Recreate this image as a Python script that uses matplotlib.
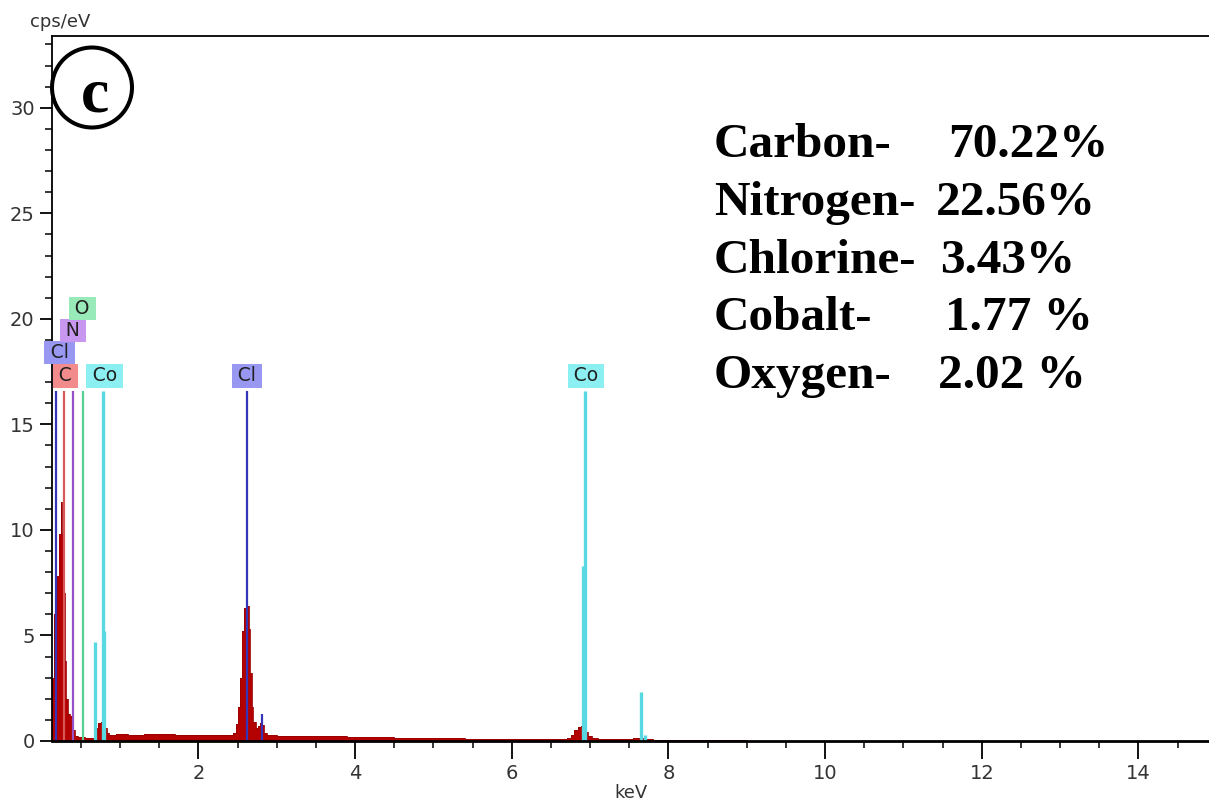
"""EDS spectrum of the cobalt complex with element markers and
the quantified composition."""

import matplotlib.pyplot as plt
from matplotlib.patches import Circle
from matplotlib.ticker import MultipleLocator

# spectrum: left edge of each channel group (keV) and counts (cps/eV)
energy = [0.13, 0.15, 0.19, 0.215, 0.24, 0.26, 0.285, 0.30, 0.315, 0.335,
          0.36, 0.385, 0.42, 0.46, 0.55, 0.66, 0.70, 0.72, 0.76, 0.80,
          0.83, 0.86, 0.95, 1.10, 1.30, 1.50, 1.70, 1.90, 2.10, 2.30,
          2.44, 2.48, 2.51, 2.53, 2.56, 2.585, 2.605, 2.625, 2.64, 2.66,
          2.68, 2.70, 2.73, 2.76, 2.78, 2.81, 2.84, 2.87, 3.0, 3.3,
          3.6, 3.9, 4.2, 4.5, 4.8, 5.1, 5.4, 5.7, 6.0, 6.3,
          6.6, 6.70, 6.75, 6.80, 6.85, 6.88, 6.93, 6.97, 7.02, 7.1,
          7.55, 7.7, 7.8, 8.2, 8.5, 9.0, 9.4, 10.0]
counts = [3.0, 6.0, 7.8, 9.8, 11.3, 9.8, 7.0, 3.8, 2.0, 1.3,
          1.2, 0.5, 0.25, 0.18, 0.15, 0.3, 0.6, 0.85, 0.9, 0.6,
          0.4, 0.3, 0.32, 0.3, 0.33, 0.32, 0.3, 0.3, 0.29, 0.3,
          0.4, 0.8, 1.6, 3.0, 5.2, 6.3, 6.8, 6.4, 5.3, 3.2,
          1.6, 0.9, 0.6, 0.7, 0.85, 0.75, 0.4, 0.28, 0.25, 0.24,
          0.22, 0.2, 0.17, 0.15, 0.14, 0.12, 0.11, 0.1, 0.09, 0.08,
          0.09, 0.15, 0.3, 0.5, 0.65, 0.72, 0.45, 0.25, 0.12, 0.08,
          0.12, 0.08, 0.06, 0.05, 0.03, 0.02, 0.01, 0.0]

# element lines: energy (keV), marker height, element
line_energy = [0.183, 0.277, 0.392, 0.525, 0.678, 0.776, 0.79,
               2.622, 2.815, 6.915, 6.930, 7.649, 7.70]
line_height = [16.6, 16.6, 16.6, 16.6, 4.7, 16.6, 5.2,
               16.6, 1.3, 8.3, 16.6, 2.3, 0.3]
line_element = ["Cl", "C", "N", "O", "Co", "Co", "Co",
                "Cl", "Cl", "Co", "Co", "Co", "Co"]

# element tags: text, x (keV), y (cps/eV)
tag_text = ["C", "Co", "Cl", "N", "O", "Cl", "Co"]
tag_x = [0.30, 0.80, 0.225, 0.40, 0.52, 2.622, 6.95]
tag_y = [17.3, 17.3, 18.4, 19.45, 20.5, 17.3, 17.3]

line_colors = {"C": "#d85858", "N": "#9650c8", "O": "#58cf94",
               "Cl": "#3535b8", "Co": "#58d8e0"}
tag_colors = {"C": "#f28c8c", "N": "#c898f0", "O": "#98eab8",
              "Cl": "#9898f2", "Co": "#8cf0f2"}

# quantification
names = ["Carbon-", "Nitrogen-", "Chlorine-", "Cobalt-", "Oxygen-"]
percent = ["70.22%", "22.56%", "3.43%", "1.77 %", "2.02 %"]

fig = plt.figure(figsize=(12.09, 8.01), dpi=100)
ax = fig.add_axes([52 / 1209, 60 / 801, 1157 / 1209, 705 / 801])

ax.fill_between(energy, counts, step="post", color="#b30000", lw=0)
ax.step(energy, counts, where="post", color="#9a0000", lw=0.6)

for e, h, el in zip(line_energy, line_height, line_element):
    ax.vlines(e, 0, h, color=line_colors[el], lw=1.6 if el != "Co" else 2.4)

# thin spaces widen the tag boxes a little
for t, x, y in zip(tag_text, tag_x, tag_y):
    ax.text(x, y, "\u2009" + t + "\u2009", ha="center", va="center",
            fontsize=13.5, color="#202020",
            bbox=dict(boxstyle="square,pad=0.12", fc=tag_colors[t], ec="none"))

ax.set_xlim(0.13, 14.9)
ax.set_ylim(0, 33.4)
ax.xaxis.set_major_locator(MultipleLocator(2))
ax.xaxis.set_minor_locator(MultipleLocator(0.5))
ax.yaxis.set_major_locator(MultipleLocator(5))
ax.yaxis.set_minor_locator(MultipleLocator(1))
ax.tick_params(which="major", length=9, width=1.3, labelsize=14,
               labelcolor="#333333")
ax.tick_params(which="minor", length=5, width=1.1)
ax.tick_params(axis="x", which="major", length=13)

for s in ["left", "top"]:
    ax.spines[s].set_linewidth(1.3)
ax.spines["bottom"].set_linewidth(2.0)
ax.spines["right"].set_visible(False)

fig.text(30 / 1209, 1 - 27 / 801, "cps/eV", fontsize=13, color="#333333")
fig.text(631 / 1209, 1 - 798 / 801, "keV", fontsize=13, color="#333333",
         ha="center")

# panel mark
fig.add_artist(Circle((0.92, 8.01 - 0.875), 0.40, transform=fig.dpi_scale_trans,
                      fill=False, ec="black", lw=2.9))
fig.text(0.95, 8.01 - 1.11, "c", transform=fig.dpi_scale_trans, ha="center",
         va="baseline", fontsize=46, fontweight="bold",
         family="Liberation Serif")

name_y = [156.7, 215, 273.3, 330, 388]
value_x = [948, 936, 940, 945, 938]
for n, p, y, vx in zip(names, percent, name_y, value_x):
    fig.text(714 / 1209, 1 - y / 801, n, fontsize=35.5, fontweight="bold",
             family="Liberation Serif", va="baseline")
    fig.text(vx / 1209, 1 - y / 801, p, fontsize=35.5, fontweight="bold",
             family="Liberation Serif", va="baseline")

fig.savefig("out.png", dpi=100)
